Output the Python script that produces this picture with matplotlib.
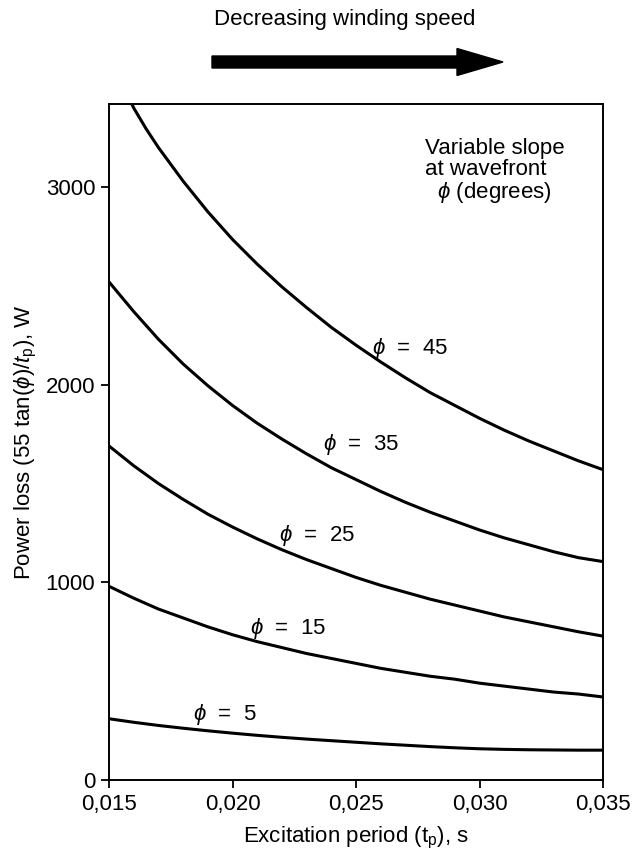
import matplotlib
matplotlib.use("Agg")
import matplotlib.pyplot as plt
from matplotlib.patches import FancyArrow

plt.rcParams['font.family'] = ['Liberation Sans', 'DejaVu Sans']
plt.rcParams['mathtext.fontset'] = 'custom'
plt.rcParams['mathtext.rm'] = 'Liberation Sans'
plt.rcParams['mathtext.it'] = 'Liberation Sans:italic'
plt.rcParams['mathtext.fallback'] = 'stixsans'

# excitation period (s)
t_p = [0.015, 0.016, 0.017, 0.018, 0.019, 0.020, 0.021, 0.022, 0.023, 0.024, 0.025,
       0.026, 0.027, 0.028, 0.029, 0.030, 0.031, 0.032, 0.033, 0.034, 0.035]
t_45 = [0.0155, 0.016, 0.0165, 0.017, 0.018, 0.019, 0.020, 0.021, 0.022, 0.023, 0.024, 0.025,
        0.026, 0.027, 0.028, 0.029, 0.030, 0.031, 0.032, 0.033, 0.034, 0.035]

# power loss (W) per wavefront slope
p45 = [3530, 3400, 3295, 3200, 3030, 2875, 2735, 2610, 2495, 2390, 2290, 2200,
       2115, 2035, 1960, 1895, 1830, 1770, 1715, 1665, 1615, 1570]
p35 = [2520, 2370, 2230, 2105, 1995, 1895, 1805, 1725, 1650, 1580, 1520,
       1460, 1405, 1355, 1310, 1265, 1225, 1190, 1155, 1125, 1105]
p25 = [1690, 1590, 1500, 1420, 1345, 1280, 1220, 1165, 1115, 1070, 1025,
       985, 950, 915, 885, 855, 825, 800, 775, 750, 728]
p15 = [980, 920, 865, 820, 775, 735, 700, 670, 640, 615, 590,
       565, 545, 525, 510, 490, 475, 460, 445, 435, 420]
p5 = [310, 292, 276, 262, 249, 237, 226, 216, 207, 199, 191,
      183, 176, 169, 163, 158, 155, 153, 152, 151, 151]

angles = [45, 35, 25, 15, 5]
label_x = [0.0272, 0.0252, 0.0234, 0.02225, 0.0197]
label_y = [2185, 1695, 1239, 769, 329]

xticks = [0.015, 0.020, 0.025, 0.030, 0.035]
xticklabels = ['0,015', '0,020', '0,025', '0,030', '0,035']
yticks = [0, 1000, 2000, 3000]

fig = plt.figure(figsize=(6.39, 8.52), dpi=100)
ax = fig.add_axes([0.1706, 0.0845, 0.7731, 0.7934])

ax.plot(t_45, p45, color='black', lw=2.2)
for vals in [p35, p25, p15, p5]:
    ax.plot(t_p, vals, color='black', lw=2.2)

for a, lx, ly in zip(angles, label_x, label_y):
    ax.text(lx, ly, r'$\phi$  =  %d' % a, fontsize=16, ha='center', va='center')

ax.set_xlim(0.015, 0.035)
ax.set_ylim(0, 3420)
ax.set_xticks(xticks)
ax.set_xticklabels(xticklabels)
ax.set_yticks(yticks)
ax.tick_params(direction='out', length=6, width=1.3, labelsize=16, pad=4)
for s in ax.spines.values():
    s.set_linewidth(1.4)

ax.set_xlabel(r'Excitation period (t$_{\rm p}$), s', fontsize=16, labelpad=7)
ax.set_ylabel(r'Power loss (55 tan($\phi$)/$t_{\rm p}$), W', fontsize=16, labelpad=5)

ax.text(0.64, 0.95, 'Variable slope\nat wavefront\n  $\\phi$ (degrees)',
        transform=ax.transAxes, fontsize=16, va='top', ha='left',
        multialignment='left', linespacing=1.0)

fig.text(345 / 639, 1 - 20 / 852, 'Decreasing winding speed', fontsize=16,
         ha='center', va='center')
arrow = FancyArrow(2.12, 7.90, 2.91, 0, width=0.12, head_width=0.27, head_length=0.46,
                   length_includes_head=True, color='black', transform=fig.dpi_scale_trans)
fig.patches.append(arrow)

fig.savefig('out.png', dpi=100)
